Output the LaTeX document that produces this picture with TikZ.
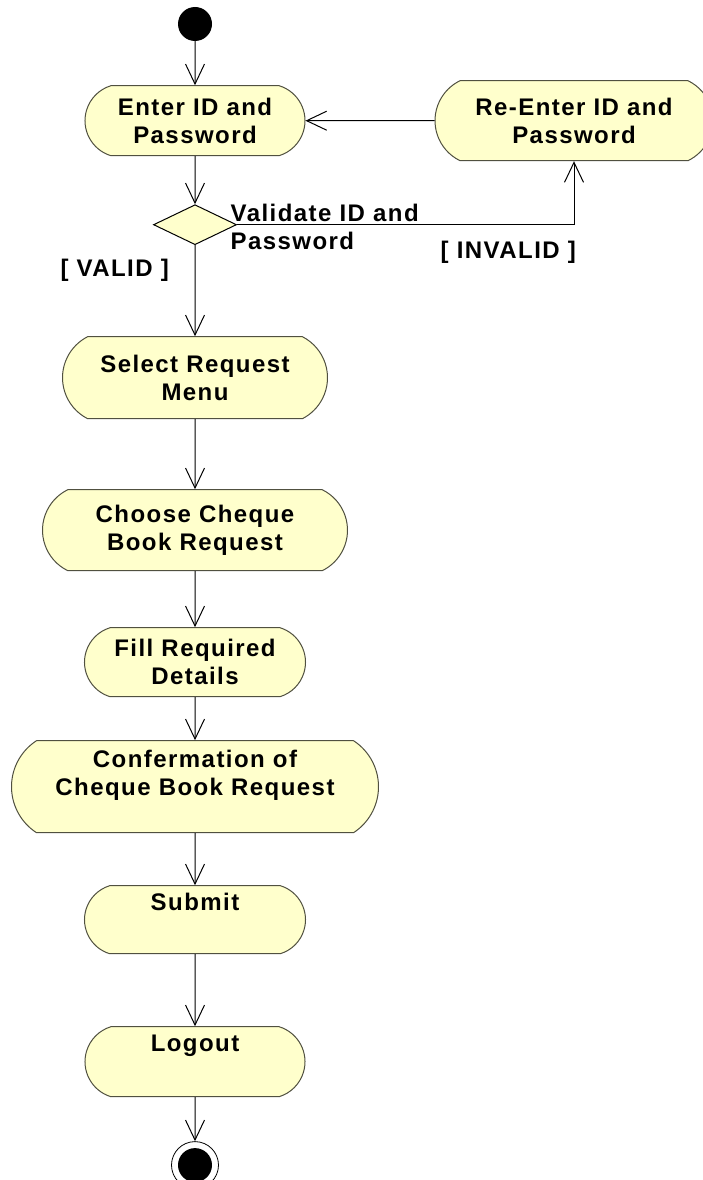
\documentclass[tikz,border=0pt]{standalone}
\usepackage{fontspec}
\setmainfont{Liberation Sans}[LetterSpace=6]
\usetikzlibrary{shapes.geometric,shapes.misc,arrows.meta,positioning}
\definecolor{actfill}{RGB}{255,255,204}
\definecolor{actdraw}{RGB}{80,80,64}

\begin{document}
\begin{tikzpicture}[
    x=1pt, y=-1pt,
    node distance=44pt,
    activity/.style={rounded rectangle, rounded rectangle arc length=146, draw=actdraw, fill=actfill, line width=1pt, inner sep=0pt, align=center, minimum height=70pt, font=\fontsize{24}{28}\selectfont\bfseries},
    decision/.style={diamond, draw=black, fill=actfill, line width=1pt, inner sep=0pt, minimum width=83pt, minimum height=40pt},
    startdot/.style={circle, fill=black, inner sep=0pt, minimum size=34pt},
    enddot/.style={circle, draw=black, line width=0.8pt, inner sep=0pt, minimum size=47pt, path picture={\fill[black] (path picture bounding box.center) circle (17pt);}},
    guard/.style={inner sep=0pt, font=\fontsize{24}{28}\selectfont\bfseries},
    arrow/.style={line width=1pt, -{Straight Barb[length=20pt, width=19pt]}}
]

\useasboundingbox (0,0) rectangle (703,1180);

% Main column
\node[startdot] (start) at (195,24) {};
\node[activity, minimum width=220pt, below=44pt of start] (enter) {Enter ID and\\Password};
\node[decision, below=48pt of enter] (check) {};
\node[activity, minimum width=265pt, minimum height=82pt, rounded rectangle arc length=126, below=91pt of check] (select) {Select Request\\Menu};
\node[activity, minimum width=305pt, minimum height=81pt, rounded rectangle arc length=128, below=70pt of select] (choose) {Choose Cheque\\Book Request};
\node[activity, minimum width=221pt, minimum height=69pt, below=56pt of choose] (details) {Fill Required\\Details};
\node[activity, minimum width=367pt, minimum height=92pt, rounded rectangle arc length=114, below=43pt of details] (confirm) {Confermation of\\Cheque Book Request\\~};
\node[activity, minimum width=221pt, minimum height=68pt, below=52pt of confirm] (submit) {Submit\\\strut};
\node[activity, minimum width=220pt, below=72pt of submit] (logout) {Logout\\\strut};
\node[enddot, below=44pt of logout] (stop) {};

% Retry branch
\node[activity, minimum width=278pt, minimum height=80pt, rounded rectangle arc length=128, right=129pt of enter] (reenter) {Re-Enter ID and\\Password};
\coordinate (corner) at (check.east -| reenter.south);

% Flow
\draw[arrow] (start) -- (enter);
\draw[arrow] (enter) -- (check);
\draw[arrow] (check) -- (select);
\draw[arrow] (select) -- (choose);
\draw[arrow] (choose) -- (details);
\draw[arrow] (details) -- (confirm);
\draw[arrow] (confirm) -- (submit);
\draw[arrow] (submit) -- (logout);
\draw[arrow] (logout) -- (stop);
\draw[arrow] (check.east) -| (reenter.south);
\draw[arrow] (reenter) -- (enter);

% Guards
\node[guard, align=left, anchor=west] (checklbl) at ([xshift=-6.5pt, yshift=-2.3pt]check.east) {Validate ID and\\Password};
\node[guard, anchor=east] (validlbl) at ([xshift=-26pt, yshift=-25pt]check.south) {[ VALID ]};
\node[guard, anchor=east] (invalidlbl) at ([xshift=2pt, yshift=-28pt]corner) {[ INVALID ]};

\end{tikzpicture}
\end{document}
